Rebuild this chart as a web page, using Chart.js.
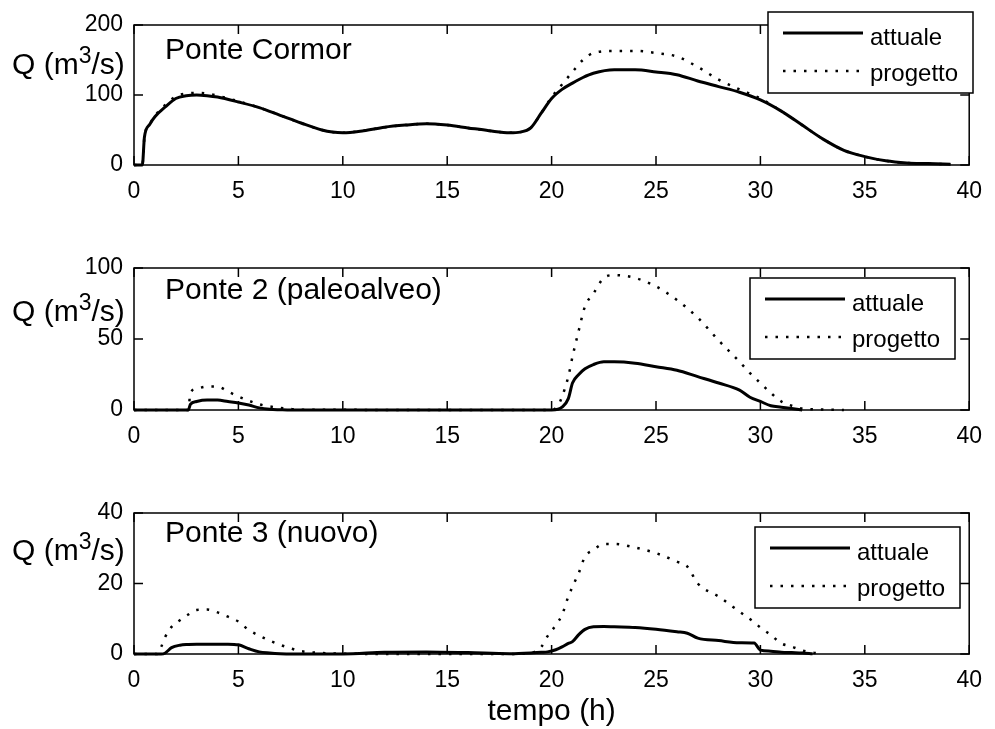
<!DOCTYPE html>
<html>
<head>
<meta charset="utf-8">
<script src="https://cdn.jsdelivr.net/npm/chart.js@4.4.1/dist/chart.umd.min.js"></script>
<style>
  html, body { margin: 0; padding: 0; background: #fff; }
  #wrap { position: relative; width: 995px; height: 729px; }
  #wrap canvas { position: absolute; left: 0; top: 0; }
</style>
</head>
<body>
<div id="wrap">
  <canvas id="c1" width="995" height="729"></canvas>
  <canvas id="c2" width="995" height="729"></canvas>
  <canvas id="c3" width="995" height="729"></canvas>
</div>
<script>
// ---- dati ----
const tickX = [0, 5, 10, 15, 20, 25, 30, 35, 40];
const tickY1 = [0, 100, 200];
const tickY2 = [0, 50, 100];
const tickY3 = [0, 20, 40];
const serie = ['attuale', 'progetto'];
const titoli = ['Ponte Cormor', 'Ponte 2 (paleoalveo)', 'Ponte 3 (nuovo)'];
const etichettaY = ['Q (m', '3', '/s)'];
const etichettaX = 'tempo (h)';

// Ponte Cormor
const tempi1 = [0, 0.4, 0.5, 0.75, 1, 1.5, 2, 2.5, 3, 3.5, 4, 5, 6, 7, 8, 9, 9.5, 10, 11, 12, 13, 14, 15, 16, 17, 18, 18.5, 19, 19.5, 20, 20.5, 21, 21.5, 22, 23, 24, 25, 26, 27, 28, 29, 30, 31, 32, 33, 34, 35, 36, 37, 38, 39.1];
const attuale1 = [0, 0, 40, 58, 69, 83, 95, 99, 100, 99, 97, 90, 82, 71, 60, 50, 47, 46, 49, 54, 57, 59, 57, 53, 49, 46, 47, 53, 74, 95, 108, 117, 125, 131, 136, 136, 133, 129, 120, 112, 104, 93, 77, 57, 37, 21, 12, 6, 3, 2, 1];
const progetto1 = [0, 0, 40, 58, 70, 86, 98, 102, 103, 102, 99, 91, 82, 71, 60, 50, 47, 46, 49, 54, 57, 59, 57, 53, 49, 46, 47, 53, 74, 97, 115, 133, 150, 160, 163, 163, 160, 155, 140, 122, 108, 95, 77, 57, 37, 21, 12, 6, 3, 2, 1];

// Ponte 2 (paleoalveo)
const tempi2 = [0, 2.6, 2.7, 3, 3.5, 4, 4.5, 5, 5.5, 6, 6.5, 7, 7.5, 8, 20, 20.3, 20.5, 20.8, 21, 21.3, 21.6, 22, 22.5, 23, 24, 25, 26, 27, 28, 29, 29.5, 30, 30.5, 31, 31.5, 32, 33, 34];
const attuale2 = [0, 0, 4, 6, 7, 7, 6, 5, 3.5, 1.5, 0.5, 0.2, 0, 0, 0, 0.5, 2, 8, 19, 25, 29, 32, 34, 34, 33, 30.5, 28, 23.5, 19, 14, 9, 6, 3, 2, 1, 0, null, null];
const progetto2 = [0, 0, 12, 15, 16.5, 16.5, 13, 9.5, 6.5, 4, 2.5, 1.5, 0.7, 0.2, 0, 3, 9.4, 23.5, 37.5, 56, 73, 82, 93, 95, 93, 87, 77.5, 65, 49, 34, 26, 19, 12, 6, 3, 1, 0.3, 0];

// Ponte 3 (nuovo)
const tempi3 = [0, 1.1, 1.3, 1.5, 1.8, 2.2, 2.6, 3, 3.5, 4, 4.5, 5, 5.5, 6, 6.5, 7, 7.5, 8, 9, 10, 12, 14, 16, 18, 19, 19.5, 19.8, 20.2, 20.5, 20.8, 21, 21.3, 21.6, 22, 22.5, 23, 24, 25, 26, 26.5, 27, 28, 29, 29.7, 30, 30.5, 31, 31.5, 32, 32.5, 33];
const attuale3 = [0, 0, 0, 0.3, 1.8, 2.5, 2.7, 2.8, 2.8, 2.8, 2.8, 2.6, 1.5, 0.6, 0.3, 0.1, 0, 0, 0, 0, 0.5, 0.6, 0.4, 0.1, 0.3, 0.5, 0.6, 1.2, 2, 3, 3.5, 5.5, 7, 7.7, 7.8, 7.7, 7.5, 7, 6.3, 5.9, 4.5, 3.8, 3.2, 3.1, 1.1, 0.8, 0.5, 0.4, 0.3, 0.1, null];
const progetto3 = [0, 0, 2, 4.9, 7.7, 9.6, 11.2, 12.5, 12.6, 11.8, 10.6, 9.2, 6.8, 5.2, 3.8, 2.6, 1.6, 0.8, 0.3, 0.1, 0, 0, 0, 0, 0.3, 2, 5, 8.2, 11.1, 16.3, 19.1, 23, 27.6, 29.5, 31.2, 31.2, 30.2, 28.6, 26.2, 24.8, 20, 16.3, 12, 9, 7.5, 5.4, 3.0, 2.1, 1, 0.4, 0];

const FONT = '"Liberation Sans", Arial, sans-serif';

function punti(t, v) {
  return t.map((x, i) => ({ x: x, y: v[i] }));
}

function scrivi(ctx, txt, x, y, size) {
  ctx.font = size + 'px ' + FONT;
  ctx.fillText(txt, x, y);
  return ctx.measureText(txt).width;
}

// cornice stile matlab, titolo, etichette e legenda
const cornice = {
  id: 'cornice',
  afterDraw(chart, args, o) {
    const ctx = chart.ctx;
    const a = chart.chartArea;
    const sx = chart.scales.x, sy = chart.scales.y;
    ctx.save();
    ctx.strokeStyle = '#000';
    ctx.fillStyle = '#000';
    ctx.lineWidth = 1.5;
    ctx.setLineDash([]);
    ctx.strokeRect(a.left, a.top, a.right - a.left, a.bottom - a.top);
    ctx.beginPath();
    sx.ticks.forEach(t => {
      const p = sx.getPixelForValue(t.value);
      ctx.moveTo(p, a.bottom); ctx.lineTo(p, a.bottom - 9);
      ctx.moveTo(p, a.top); ctx.lineTo(p, a.top + 9);
    });
    sy.ticks.forEach(t => {
      const p = sy.getPixelForValue(t.value);
      ctx.moveTo(a.left, p); ctx.lineTo(a.left + 9, p);
      ctx.moveTo(a.right, p); ctx.lineTo(a.right - 9, p);
    });
    ctx.stroke();

    ctx.textAlign = 'left';
    ctx.textBaseline = 'alphabetic';
    // titolo dentro gli assi
    scrivi(ctx, o.titolo, a.left + 31, a.top + o.titoloY, 30);

    // etichetta y con apice
    let xx = 12;
    const yb = a.top + o.ylabY;
    xx += scrivi(ctx, etichettaY[0], xx, yb, 30);
    xx += scrivi(ctx, etichettaY[1], xx, yb - 11, 23);
    scrivi(ctx, etichettaY[2], xx, yb, 30);

    // etichetta x
    if (o.xlab) {
      ctx.textAlign = 'center';
      scrivi(ctx, o.xlab, (a.left + a.right) / 2, 720, 30);
      ctx.textAlign = 'left';
    }

    // legenda
    const L = o.legenda;
    ctx.fillStyle = '#fff';
    ctx.fillRect(L.x, L.y, 205, 81);
    ctx.lineWidth = 1.5;
    ctx.strokeRect(L.x, L.y, 205, 81);
    ctx.fillStyle = '#000';
    ctx.font = '24px ' + FONT;
    chart.data.datasets.forEach((ds, i) => {
      const yl = L.y + 21 + i * 38;
      ctx.beginPath();
      ctx.setLineDash(ds.borderDash || []);
      ctx.lineWidth = ds.borderWidth;
      ctx.moveTo(L.x + 15, yl);
      ctx.lineTo(L.x + 95, yl);
      ctx.stroke();
      ctx.setLineDash([]);
      ctx.fillText(ds.label, L.x + 102, L.y + 33 + i * 36);
    });
    ctx.restore();
  }
};

function pannello(id, tempi, att, prog, tickY, titolo, pos) {
  new Chart(document.getElementById(id), {
    type: 'line',
    data: {
      datasets: [
        {
          label: serie[0],
          data: punti(tempi, att),
          borderColor: '#000',
          borderWidth: 3,
          pointRadius: 0,
          cubicInterpolationMode: 'monotone',
          clip: false,
          order: 0
        },
        {
          label: serie[1],
          data: punti(tempi, prog),
          borderColor: '#000',
          borderWidth: 2.5,
          borderDash: [2.5, 8],
          pointRadius: 0,
          cubicInterpolationMode: 'monotone',
          clip: false,
          order: 1
        }
      ]
    },
    options: {
      responsive: false,
      animation: false,
      events: [],
      layout: { padding: { top: pos.top, right: 16, left: 0, bottom: 729 - pos.bottom - 40 } },
      plugins: {
        legend: { display: false },
        tooltip: { enabled: false },
        cornice: { titolo: titolo, titoloY: pos.titoloY, ylabY: pos.ylabY, legenda: pos.legenda, xlab: pos.xlab }
      },
      scales: {
        x: {
          type: 'linear', min: 0, max: 40,
          afterBuildTicks: s => { s.ticks = tickX.map(v => ({ value: v })); },
          afterFit: s => { s.height = 40; },
          grid: { display: false, drawTicks: false },
          border: { display: false },
          ticks: { color: '#000', font: { family: FONT, size: 23 }, padding: 13, maxRotation: 0, autoSkip: false }
        },
        y: {
          min: 0, max: tickY[tickY.length - 1],
          afterBuildTicks: s => { s.ticks = tickY.map(v => ({ value: v })); },
          afterFit: s => { s.width = 134; },
          grid: { display: false, drawTicks: false },
          border: { display: false },
          ticks: { color: '#000', font: { family: FONT, size: 23 }, padding: 11 }
        }
      }
    },
    plugins: [cornice]
  });
}

pannello('c1', tempi1, attuale1, progetto1, tickY1, titoli[0],
  { top: 25, bottom: 165, titoloY: 34, ylabY: 49, legenda: { x: 768, y: 12 } });
pannello('c2', tempi2, attuale2, progetto2, tickY2, titoli[1],
  { top: 268, bottom: 410, titoloY: 31, ylabY: 53, legenda: { x: 750, y: 278 } });
pannello('c3', tempi3, attuale3, progetto3, tickY3, titoli[2],
  { top: 513, bottom: 654, titoloY: 29, ylabY: 47, legenda: { x: 755, y: 527 }, xlab: etichettaX });
</script>
</body>
</html>
